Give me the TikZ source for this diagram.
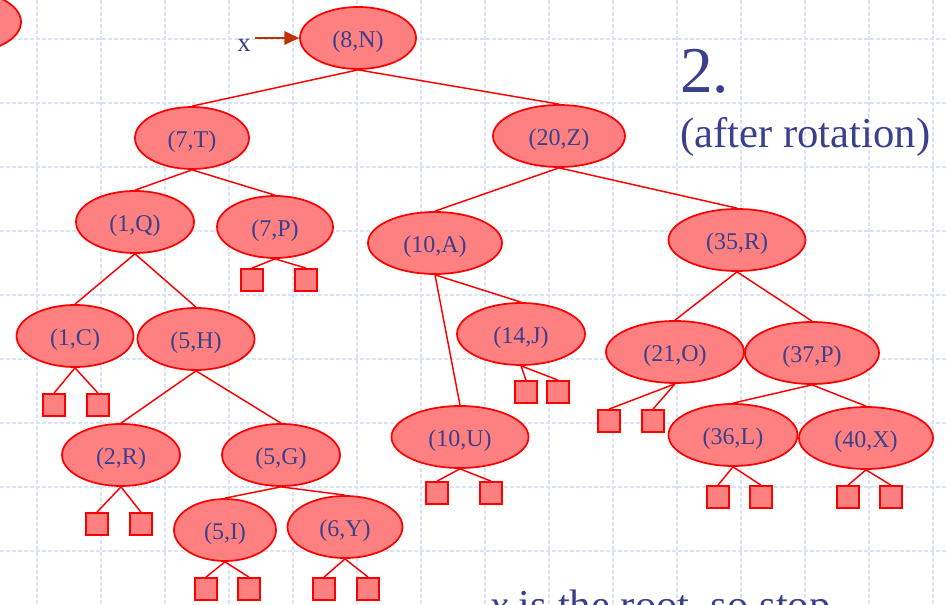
\documentclass[tikz,border=0pt]{standalone}
\usepackage{fontspec}
\setmainfont{Liberation Serif}
\usepackage{tikz}
\usetikzlibrary{arrows.meta,shapes}
\definecolor{inkblue}{RGB}{58,64,140}
\definecolor{gridblue}{RGB}{218,226,250}
\definecolor{keyfill}{RGB}{255,128,128}
\definecolor{ptrred}{RGB}{190,48,0}
\tikzstyle{key} = [ellipse, draw=red, fill=keyfill, line width=1.3pt, inner sep=0pt, minimum height=46.5pt, text=inkblue, font=\fontsize{18}{20}\selectfont, text height=18pt, text depth=4pt]
\tikzstyle{leaf} = [rectangle, draw=red, fill=keyfill, line width=1.3pt, inner sep=0pt, minimum width=16pt, minimum height=16.5pt]
\tikzstyle{edge} = [draw=red, line width=1.1pt]
\tikzstyle{gridline} = [draw=gridblue, line width=0.8pt, dash pattern=on 3pt off 1.5pt]
\tikzstyle{ptr} = [draw=ptrred, line width=1.5pt, -{Triangle[length=11pt,width=10pt]}]

\begin{document}
\begin{tikzpicture}[x=0.75pt,y=-0.75pt]
\useasboundingbox (0,0) rectangle (946,605);
\clip (0,0) rectangle (946,605);

\foreach \gx in {37,101,...,933} \draw[gridline] (\gx,0) -- (\gx,605);
\foreach \gy in {39,103,...,551} \draw[gridline] (0,\gy) -- (946,\gy);

% node of the previous step, cut by the frame
\node[key, minimum width=87pt] (prev) at (-37,22) {};

\foreach \n/\x/\y/\w/\t in
{N8/358/38/116/{(8,N)}, T7/192/138/114/{(7,T)}, Z20/559/136/132/{(20,Z)},
Q1/135/222/118/{(1,Q)}, P7/275/227/116/{(7,P)}, C1/75/336/117/{(1,C)},
H5/196/339/117/{(5,H)}, R2/121/455/118/{(2,R)}, G5/281/455/118/{(5,G)},
I5/225/530/102/{(5,I)}, Y6/345/527/115/{(6,Y)}, A10/435/243/134/{(10,A)},
J14/521/334/128/{(14,J)}, U10/460/437/137/{(10,U)}, R35/737/240/137/{(35,R)},
O21/675/352/138/{(21,O)}, P37/812/353/134/{(37,P)}, L36/733/435/129/{(36,L)},
X40/866/438/134/{(40,X)}}
\node[key, minimum width=\w*0.75pt] (\n) at (\x,\y) {\t};

\foreach \a/\b in {N8/T7,N8/Z20,T7/Q1,T7/P7,Q1/C1,Q1/H5,H5/R2,H5/G5,G5/I5,G5/Y6,
Z20/A10,Z20/R35,A10/U10,A10/J14,R35/O21,R35/P37,P37/L36,P37/X40}
\draw[edge] (\a.south) -- (\b.north);

\foreach \q/\ax/\bx/\ly in {P7/252/306/280, C1/54/98/405, R2/97/141/524, I5/206/249/589,
Y6/324/368/589, J14/526/558/392, U10/437/491/493, O21/609/653/421, L36/718/761/497, X40/848/891/497}
{
\node[leaf] (\q-a) at (\ax,\ly) {};
\node[leaf] (\q-b) at (\bx,\ly) {};
\draw[edge] (\q.south) -- (\q-a.north);
\draw[edge] (\q.south) -- (\q-b.north);
}

\node[anchor=base, inner sep=0pt, text=inkblue, font=\fontsize{20}{22}\selectfont] (xlbl) at (244,52) {x};
\coordinate (ptrtail) at (255,38);
\draw[ptr] (ptrtail) -- (N8.west);

\node[anchor=base west, inner sep=0pt, text=inkblue, font=\fontsize{49}{52}\selectfont] (stepno) at (680,93) {2.};
\node[anchor=base west, inner sep=0pt, text=inkblue, font=\fontsize{32}{36}\selectfont] (note) at (680,148) {(after rotation)};
\node[anchor=base west, inner sep=0pt, text=inkblue, font=\fontsize{32}{36}\selectfont] (stop) at (489,619) {\textit{x} is the root, so stop};

\end{tikzpicture}
\end{document}
